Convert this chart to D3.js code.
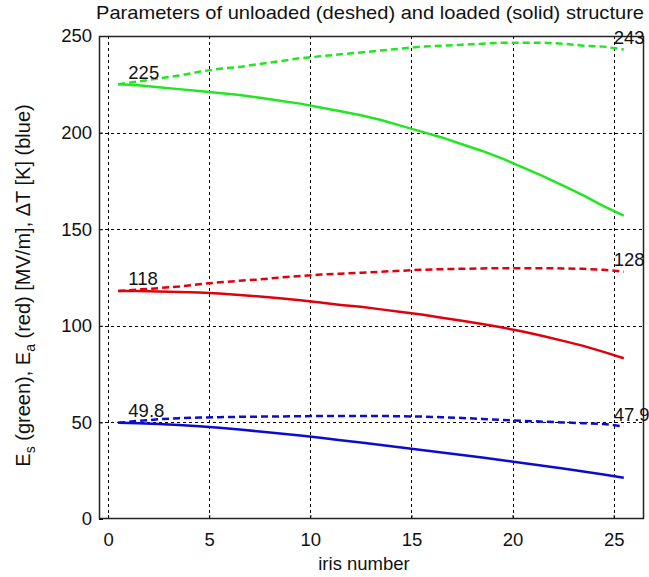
<!DOCTYPE html>
<html>
<head>
<meta charset="utf-8">
<script src="https://cdn.jsdelivr.net/npm/d3@7/dist/d3.min.js"></script>
<style>
  html, body { margin: 0; padding: 0; background: #fff; }
  svg { display: block; }
  text { font-family: "Liberation Sans", Arial, sans-serif; fill: #111; }
</style>
</head>
<body>
<svg id="chart" width="649" height="577"></svg>
<script>
// Iris positions (cell centres)
const iris = [0.5, 1.5, 2.5, 3.5, 4.5, 5.5, 6.5, 7.5, 8.5, 9.5, 10.5, 11.5, 12.5,
              13.5, 14.5, 15.5, 16.5, 17.5, 18.5, 19.5, 20.5, 21.5, 22.5, 23.5, 24.5, 25.5];

// Surface field Es [MV/m]
const esUnloaded = [225, 226.5, 228, 229.5, 231.5, 233, 234, 235.5, 237, 238.5, 239.5, 240.5, 241.5,
                    242.5, 243.5, 244.5, 245, 245.5, 246, 246.5, 246.5, 246.5, 246, 245, 244.5, 243];
const esLoaded   = [225, 224.5, 223.5, 222.5, 221.5, 220.5, 219.5, 218, 216.5, 215, 213, 211, 209,
                    206.5, 203.5, 200.5, 197.5, 194, 190.5, 186.5, 182, 177.5, 172.5, 167.5, 162, 157];

// Accelerating field Ea [MV/m]
const eaUnloaded = [118, 118.8, 119.5, 120.3, 121.5, 122.5, 123.3, 124, 125, 125.8, 126.5, 127, 127.5,
                    128, 128.5, 129, 129.3, 129.5, 129.7, 129.8, 129.8, 129.8, 129.7, 129.5, 129, 128];
const eaLoaded   = [118, 118, 117.8, 117.5, 117.2, 116.7, 116, 115.2, 114.3, 113.2, 112, 110.8, 109.8,
                    108.5, 107.2, 105.8, 104.2, 102.6, 100.9, 99.1, 97, 94.7, 92.2, 89.6, 86.5, 83.2];

// Pulsed surface heating dT [K]
const dtUnloaded = [49.8, 50.8, 51.6, 52.2, 52.5, 52.7, 52.9, 53, 53.1, 53.2, 53.3, 53.3, 53.3,
                    53.3, 53.2, 53, 52.7, 52.3, 51.8, 51.3, 50.8, 50.4, 50, 49.6, 49.2, 47.9];
const dtLoaded   = [49.8, 49.6, 49.2, 48.7, 48, 47.2, 46.3, 45.3, 44.3, 43.2, 42, 40.8, 39.6,
                    38.3, 37, 35.7, 34.4, 33.1, 31.8, 30.4, 29, 27.6, 26.1, 24.6, 23, 21.3];

const xTicks = [0, 5, 10, 15, 20, 25];
const yTicks = [0, 50, 100, 150, 200, 250];

const FS = 18.5;
const svg = d3.select("#chart");
const L = 99, R = 644, T = 36, B = 519;

const x = d3.scaleLinear().domain([-0.45, 26.5]).range([L, R]);
const y = d3.scaleLinear().domain([0, 250]).range([B, T]);

// grid
const grid = svg.append("g").attr("stroke", "#000").attr("stroke-width", 1)
  .attr("stroke-dasharray", "3,3");
grid.selectAll("line.v").data(xTicks).join("line")
  .attr("x1", d => Math.round(x(d)) + 0.5).attr("x2", d => Math.round(x(d)) + 0.5)
  .attr("y1", T).attr("y2", B);
grid.selectAll("line.h").data(yTicks.filter(d => d > 0 && d < 250)).join("line")
  .attr("y1", d => Math.round(y(d)) + 0.5).attr("y2", d => Math.round(y(d)) + 0.5)
  .attr("x1", L).attr("x2", R);

// axes
const xAxis = svg.append("g").attr("transform", `translate(0,${B})`)
  .call(d3.axisBottom(x).tickValues(xTicks).tickSize(-4).tickPadding(14));
const yAxis = svg.append("g").attr("transform", `translate(${L},0)`)
  .call(d3.axisLeft(y).tickValues(yTicks).tickSize(-4).tickPadding(7));
[xAxis, yAxis].forEach(a => {
  a.select(".domain").remove();
  a.selectAll("line").attr("stroke", "#000");
  a.selectAll("text").attr("font-size", FS).attr("fill", "#111")
    .attr("font-family", "Liberation Sans, Arial, sans-serif");
});

// frame
svg.append("rect").attr("x", L + 0.5).attr("y", T + 0.5)
  .attr("width", R - L - 1).attr("height", B - T - 1)
  .attr("fill", "none").attr("stroke", "#222").attr("stroke-width", 1.5);

// curves
const series = [
  { v: esUnloaded, c: "#22e622", dash: "7,4" },
  { v: esLoaded,   c: "#22e622", dash: null },
  { v: eaUnloaded, c: "#e0000e", dash: "7,4" },
  { v: eaLoaded,   c: "#e0000e", dash: null },
  { v: dtUnloaded, c: "#0c0cd0", dash: "7,4" },
  { v: dtLoaded,   c: "#0c0cd0", dash: null }
];
const line = d3.line().x((d, i) => x(iris[i])).y(d => y(d));
svg.append("g").selectAll("path").data(series).join("path")
  .attr("d", s => line(s.v))
  .attr("fill", "none")
  .attr("stroke", s => s.c)
  .attr("stroke-width", 2.5)
  .attr("stroke-dasharray", s => s.dash);

// value labels at first and last iris
const labels = [
  { xv: 1, v: esUnloaded[0], t: "225" },
  { xv: 1, v: eaUnloaded[0], t: "118" },
  { xv: 1, v: dtUnloaded[0], t: "49.8" },
  { xv: 25, v: esUnloaded[esUnloaded.length - 1], t: "243" },
  { xv: 25, v: eaUnloaded[eaUnloaded.length - 1], t: "128" },
  { xv: 25, v: dtUnloaded[dtUnloaded.length - 1], t: "47.9" }
];
svg.append("g").selectAll("text").data(labels).join("text")
  .attr("x", d => x(d.xv))
  .attr("y", d => y(d.v) - 12)
  .attr("dy", "0.35em")
  .attr("font-size", FS)
  .text(d => d.t);

// title
svg.append("text").attr("x", 96).attr("y", 19)
  .attr("font-size", FS)
  .attr("textLength", 548).attr("lengthAdjust", "spacingAndGlyphs")
  .text("Parameters of unloaded (deshed) and loaded (solid) structure");

// x label
svg.append("text").attr("x", 364).attr("y", 570)
  .attr("text-anchor", "middle").attr("font-size", FS)
  .text("iris number");

// y label with subscripts
const yl = svg.append("text")
  .attr("transform", `translate(30,${(T + B) / 2 + 8}) rotate(-90)`)
  .attr("text-anchor", "middle").attr("font-size", 20);
yl.append("tspan").text("E");
yl.append("tspan").attr("font-size", 14).attr("dy", 5).text("s");
yl.append("tspan").attr("dy", -5).text(" (green), E");
yl.append("tspan").attr("font-size", 14).attr("dy", 5).text("a");
yl.append("tspan").attr("dy", -5).text(" (red) [MV/m], \u0394T [K] (blue)");
</script>
</body>
</html>
